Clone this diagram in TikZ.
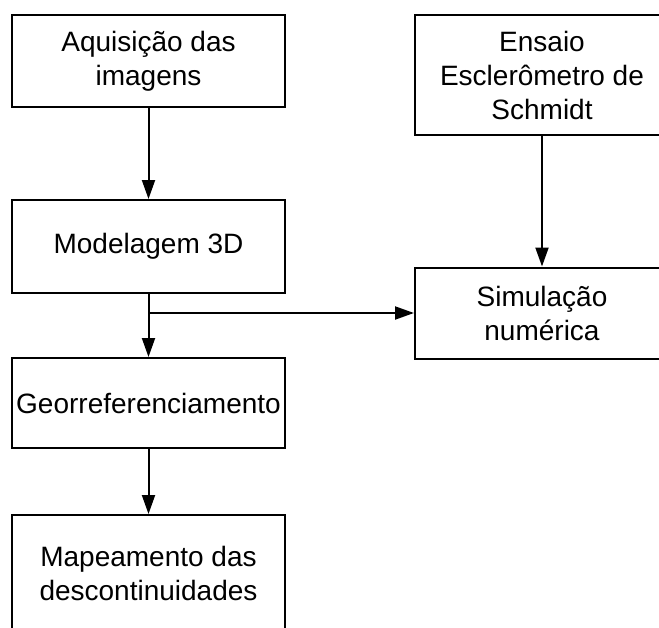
\documentclass[tikz,border=0pt]{standalone}
\usepackage{fontspec}
\setmainfont{Liberation Sans}
\usepackage{tikz}
\usetikzlibrary{arrows.meta,calc}
\tikzset{
  etapa/.style={
    draw,
    line width=2pt,
    shape = rectangle,
    inner sep = 0pt,
    minimum width=273pt,
    align=center,
    font=\fontsize{28}{34}\selectfont
  },
  etapaB/.style={
    etapa,
    minimum width=254pt
  },
  seta/.style={
    line width=2pt,
    -{Triangle[length=19pt,width=13pt]}
  }
}

\begin{document}
\begin{tikzpicture}[x=1pt,y=-1pt]
        \useasboundingbox (0,0) rectangle (659,627);
        \clip (0,0) rectangle (659,627);
        \node[etapa, minimum height=92pt] (aquis) at (148.5,61) {Aquisição das\\imagens};
        \node[etapa, minimum height=93pt] (model) at (148.5,246.5) {Modelagem 3D};
        \node[etapa, minimum height=90pt] (geo) at (148.5,403) {Georreferenciamento};
        \node[etapa, minimum height=116pt] (mapa) at (148.5,573) {Mapeamento das\\descontinuidades};
        \node[etapaB, minimum height=120pt] (ensaio) at (542,75) {Ensaio\\Esclerômetro de\\Schmidt};
        \node[etapaB, minimum height=91pt] (simul) at (542,313) {Simulação\\numérica};
        \draw[seta] (aquis) -- (model);
        \draw[seta] (model) -- (geo);
        \draw[seta] (geo) -- (mapa);
        \draw[seta] (ensaio) -- (simul);
        \draw[seta] (model.south |- simul.west) -- (simul.west);
    \end{tikzpicture}
\end{document}
